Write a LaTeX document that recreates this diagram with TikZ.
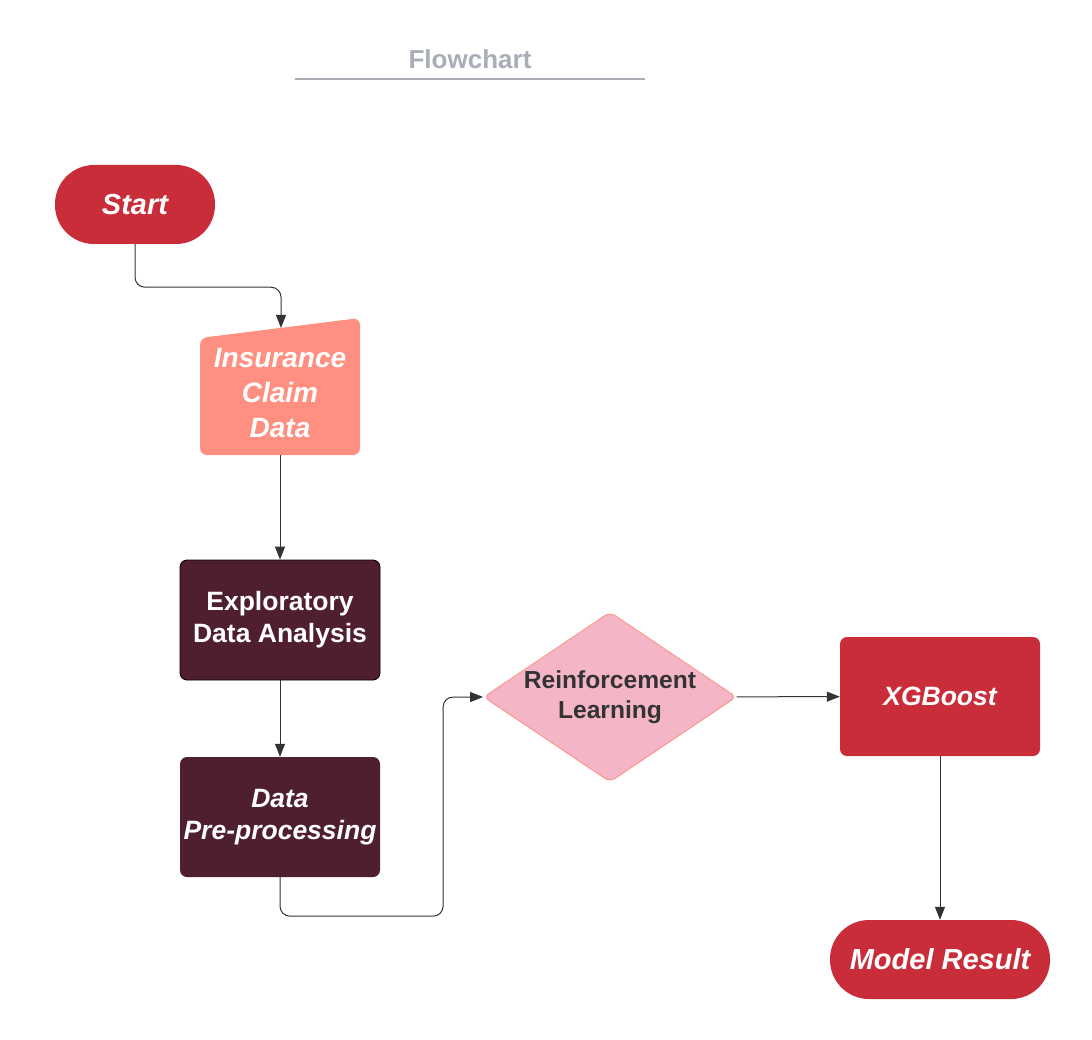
\documentclass[tikz,border=0pt]{standalone}
\usepackage{fontspec}
\setmainfont{Liberation Sans}
\usetikzlibrary{arrows.meta,positioning,shapes.geometric,calc}
\definecolor{termColor}{HTML}{C92D39}
\definecolor{inColor}{HTML}{FF8F80}
\definecolor{procColor}{HTML}{4F1F31}
\definecolor{decColor}{HTML}{F4B5C7}
\definecolor{titleColor}{HTML}{A9ADB7}
\definecolor{lineColor}{HTML}{333333}
\newcommand{\bi}{\bfseries\itshape}

\begin{document}
\begin{tikzpicture}[x=1pt,y=-1pt,
				flow/.style={-{Triangle[length=13pt,width=10pt]},draw=lineColor,line width=1pt,rounded corners=10pt},
				term/.style={rectangle,fill=termColor,text=white,rounded corners=39pt,minimum height=79pt,font=\fontsize{29}{34}\selectfont\bi},
				proc/.style={rectangle,fill=procColor,text=white,rounded corners=7pt,minimum width=200pt,minimum height=120pt,align=center},
				dec/.style={diamond,draw=inColor,line width=0.8pt,fill=decColor,text=lineColor,rounded corners=6pt,aspect=1.49,minimum width=253pt,minimum height=170pt,inner sep=0pt,align=center,font=\fontsize{24.6}{30}\selectfont\bfseries}]
				\useasboundingbox (0,0) rectangle (1092,1040);
				
				\node[text=titleColor,font=\fontsize{26}{30}\selectfont\bfseries] (title) at (470,59) {Flowchart};
				\draw[titleColor,line width=2pt] (295,79) -- (645,79);
				
				\node[term,minimum width=160pt] (start) at (135,204.5) {Start};
				
				% manual input shape
				\fill[inColor,rounded corners=7pt] (200,455) -- (360,455) -- (360,318) -- (200,338) -- cycle;
				\node[text=white,minimum width=160pt,minimum height=124pt,align=center,font=\fontsize{28}{35}\selectfont\bi] (icd) at (280,393) {Insurance\\Claim\\Data};
				\coordinate (icdtop) at (281,328);
				
				\node[proc,draw=black,line width=0.8pt,font=\fontsize{26.5}{32}\selectfont\bfseries] (eda) at (280,620) {Exploratory\\Data Analysis};
				\node[proc,font=\fontsize{26.5}{32}\selectfont\bi] (dpp) at (280,817) {Data\\Pre-processing};
				
				\node[dec] (rl) at (610,697) {Reinforcement\\Learning};
				
				\node[proc,fill=termColor,minimum height=119pt,font=\fontsize{26.5}{32}\selectfont\bi] (xgb) at (940,696.5) {XGBoost};
				\node[term,minimum width=220pt] (res) at (940,959.5) {Model Result};
				
				\draw[flow] (start.south) -- ++(0,43) -| (icdtop);
				\draw[flow] (icd.south) -- (eda.north);
				\draw[flow] (eda) -- (dpp);
				\draw[flow] (dpp.south) -- ++(0,39) -| ($(rl.west)+(-40,0)$) -- (rl.west);
				\draw[flow] (rl) -- (xgb);
				\draw[flow] (xgb) -- (res);
\end{tikzpicture}
\end{document}
